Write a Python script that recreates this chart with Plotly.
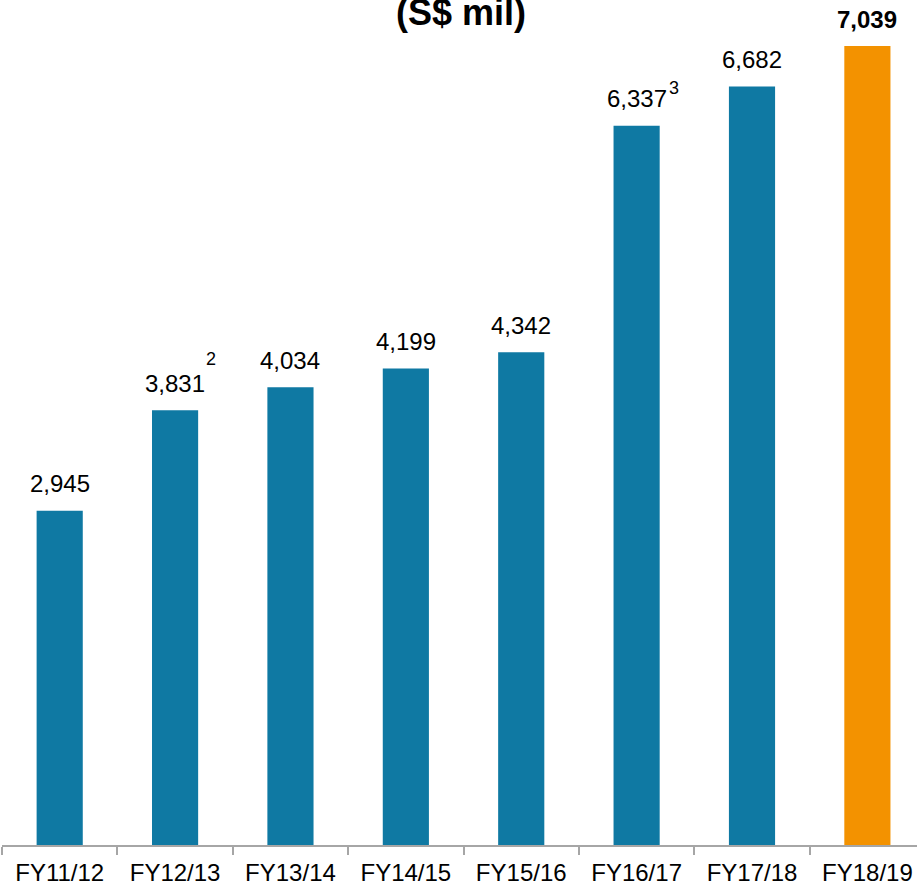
import plotly.graph_objects as go

# Revenue by financial year (S$ mil)
years = ["FY11/12", "FY12/13", "FY13/14", "FY14/15", "FY15/16", "FY16/17", "FY17/18", "FY18/19"]
revenue = [2945, 3831, 4034, 4199, 4342, 6337, 6682, 7039]
value_labels = ["2,945", "3,831", "4,034", "4,199", "4,342", "6,337", "6,682", "7,039"]
footnotes = {1: "2", 5: "3"}

BLUE = "#0f79a3"
ORANGE = "#f39200"
FONT = "Liberation Sans, Arial, sans-serif"

W, H = 917, 886
M_L, M_B = 2, 41
PLOT_W, PLOT_H = W - M_L, H - M_B

colors = [BLUE] * (len(years) - 1) + [ORANGE]

fig = go.Figure(
    go.Bar(
        x=years,
        y=revenue,
        marker=dict(color=colors, line=dict(width=0)),
        width=0.4,
        hoverinfo="x+y",
    )
)

annotations = []
for i, (yr, val, lab) in enumerate(zip(years, revenue, value_labels)):
    latest = i == len(years) - 1
    annotations.append(dict(
        x=yr, y=val, xref="x", yref="y",
        text=f"<b>{lab}</b>" if latest else lab,
        showarrow=False, yanchor="middle", yshift=27,
        font=dict(family=FONT, size=24, color="#000000"),
    ))

# footnote markers beside selected value labels
foot_offsets = {1: (36, 51), 5: (37, 38)}
for i, mark in footnotes.items():
    dx, dy = foot_offsets[i]
    annotations.append(dict(
        x=years[i], y=revenue[i], xref="x", yref="y",
        text=mark, showarrow=False, yanchor="middle",
        xshift=dx, yshift=dy,
        font=dict(family=FONT, size=18, color="#000000"),
    ))

# unit heading, partly above the page edge
annotations.append(dict(
    x=(461 - M_L) / PLOT_W, y=(PLOT_H - 13) / PLOT_H, xref="paper", yref="paper",
    text="<b>(S$ mil)</b>", showarrow=False,
    xanchor="center", yanchor="middle",
    font=dict(family=FONT, size=36, color="#000000"),
))

fig.update_layout(
    width=W, height=H,
    margin=dict(l=M_L, r=0, t=0, b=M_B),
    paper_bgcolor="white", plot_bgcolor="white",
    showlegend=False,
    annotations=annotations,
    font=dict(family=FONT, color="#000000"),
)
fig.update_xaxes(
    type="category",
    range=[-0.5, 7.43],
    tickson="boundaries",
    ticks="outside", ticklen=8, tickwidth=2, tickcolor="#a6a6a6",
    ticklabelstandoff=5,
    showline=True, linecolor="#a6a6a6", linewidth=2,
    showgrid=False, zeroline=False,
    tickfont=dict(family=FONT, size=24, color="#000000"),
)
fig.update_yaxes(
    range=[0, 7445],
    visible=False, showgrid=False, zeroline=False,
)

fig.write_html("out.html")
